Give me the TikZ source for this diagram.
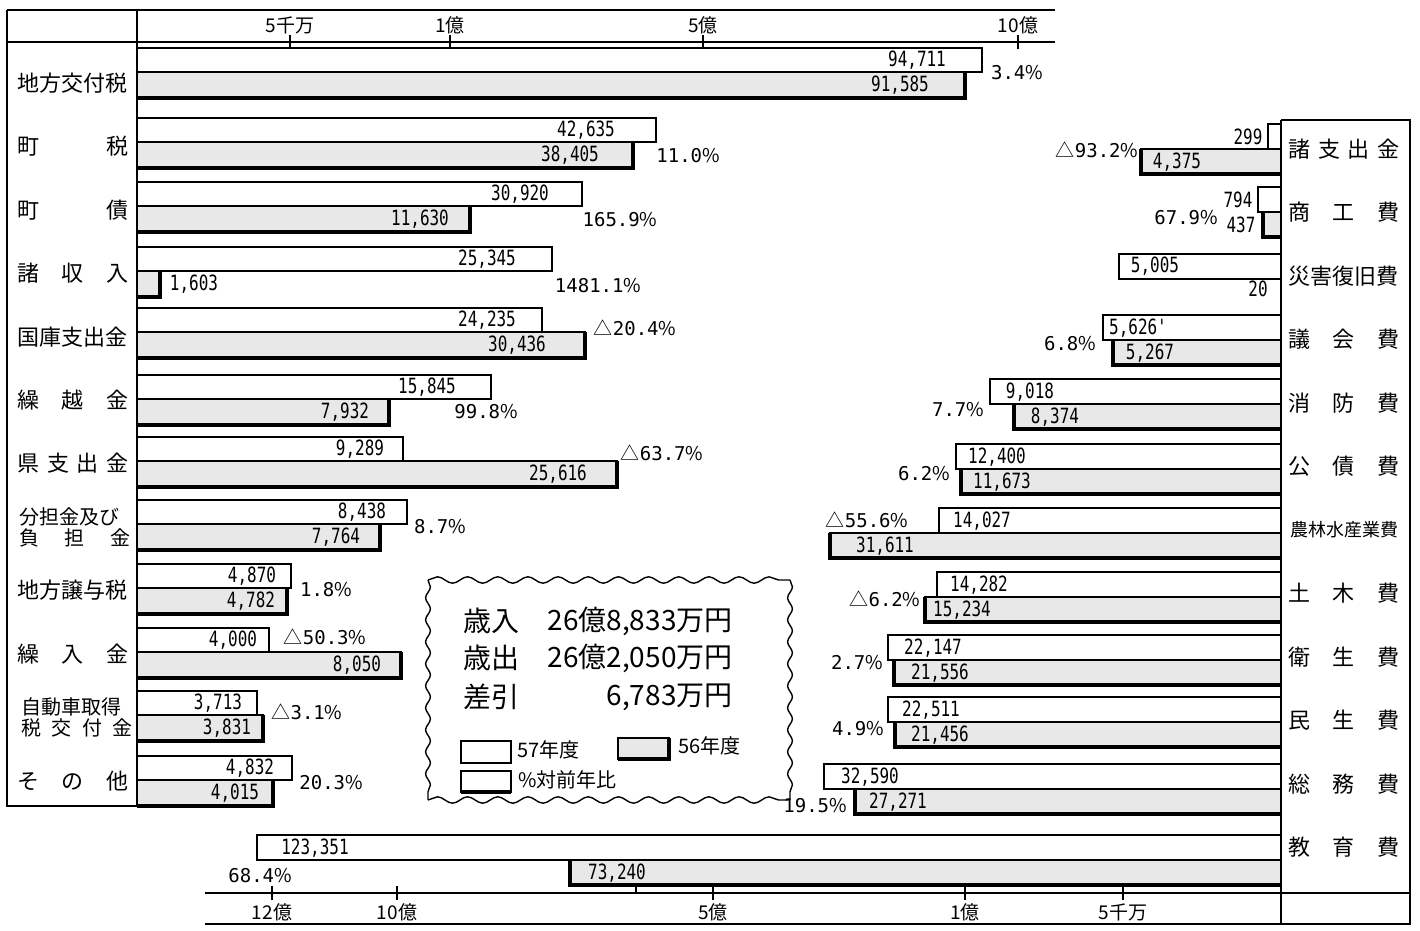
\documentclass[tikz,border=0pt]{standalone}
\usepackage{fontspec}
\setmainfont{Noto Sans CJK JP}
\newfontfamily\jpfont{Noto Sans CJK JP}
\newfontfamily\numfont{DejaVu Sans Mono}
\newfontfamily\slimfont[FakeStretch=0.76]{DejaVu Sans Mono}
\usetikzlibrary{positioning}
\usetikzlibrary{decorations.pathmorphing}
\newcommand\dtri{{\jpfont △}}
\newcommand\pcs{{\jpfont\%}}

\begin{document}
\begin{tikzpicture}[
        x = 0.5pt, y = -0.5pt, % one unit per pixel of the page
        bar57/.style = {draw, fill = white, line width = 0.7pt},
        bar56/.style = {draw, fill = gray!18, line width = 0.7pt},
        shade/.style = {line width = 2.2pt},
        frame/.style = {line width = 0.8pt},
        wavy/.style = {line width = 0.7pt, decorate, decoration = {snake, #1}},
        val/.style = {font = \slimfont\fontsize{10.5}{11}\selectfont, inner sep = 0pt},
        pct/.style = {font = \numfont\fontsize{9.5}{10}\selectfont, inner sep = 0pt},
        axlab/.style = {font = \fontsize{9.5}{10}\selectfont, inner sep = 0pt},
        rowlab/.style = {anchor = west, inner sep = 0pt, text width = 55.5pt,
                         align = left, font = \fontsize{11}{12}\selectfont},
        smalllab/.style = {rowlab, font = \fontsize{10}{10.5}\selectfont},
        sumtxt/.style = {inner sep = 0pt, font = \fontsize{14}{15}\selectfont},
        keytxt/.style = {anchor = west, inner sep = 0pt, font = \fontsize{10}{11}\selectfont}
    ]
    \useasboundingbox (0,0) rectangle (1420,931);

    % frame and top scale (revenue)
    \draw[frame] (7,10) -- (1055,10);
    \draw[frame] (7,42) -- (1055,42);
    \draw[frame] (7,10) -- (7,806) -- (137,806);
    \draw[frame] (137,10) -- (137,806);
    \foreach \tx/\tl in {290/5千万, 450/1億, 703/5億, 1018/10億} {
        \draw[frame] (\tx,35) -- (\tx,49);
        \node[axlab] (top-\tx) at (\tx,25) {\tl};
    }

    % frame and bottom scale (expenditure)
    \draw[frame] (1281,120) -- (1410,120) -- (1410,924) -- (205,924);
    \draw[frame] (1281,120) -- (1281,924);
    \draw[frame] (205,893) -- (1410,893);
    \foreach \tx/\tl in {272/12億, 397/10億, 713/5億, 965/1億, 1123/5千万} {
        \draw[frame] (\tx,886) -- (\tx,900);
        \node[axlab] (bot-\tx) at (\tx,912) {\tl};
    }
    \draw[frame] (636,886) -- (636,893);

    % revenue bars
    \foreach \k/\yb/\wend/\wx/\wv/\gend/\gx/\gv/\px/\py/\pv in {
        1/72/982/917/94{,}711/965/900/91{,}585/1017/73/3.4\pcs,
        2/142/656/586/42{,}635/633/570/38{,}405/688/156/11.0\pcs,
        3/206/582/520/30{,}920/470/420/11{,}630/620/220/165.9\pcs,
        4/271/552/487/25{,}345/160/194/1{,}603/598/286/1481.1\pcs,
        5/332/542/487/24{,}235/585/517/30{,}436/635/328/\dtri20.4\pcs,
        6/399/491/427/15{,}845/389/345/7{,}932/486/412/99.8\pcs,
        7/461/403/360/9{,}289/617/558/25{,}616/662/453/\dtri63.7\pcs,
        8/524/407/362/8{,}438/380/336/7{,}764/440/527/8.7\pcs,
        9/588/291/252/4{,}870/287/251/4{,}782/326/590/1.8\pcs,
        10/652/269/233/4{,}000/401/357/8{,}050/325/637/\dtri50.3\pcs,
        11/715/257/218/3{,}713/263/227/3{,}831/307/712/\dtri3.1\pcs,
        12/780/292/250/4{,}832/273/235/4{,}015/331/783/20.3\pcs} {
        \draw[bar57] (137,\yb-24) rectangle (\wend,\yb);
        \draw[bar56] (137,\yb) rectangle (\gend,\yb+26);
        \draw[shade] (137,\yb+26) -- (\gend,\yb+26) -- (\gend,\yb);
        \node[val] (in-w-\k) at (\wx,\yb-12) {\wv};
        \node[val] (in-g-\k) at (\gx,\yb+13) {\gv};
        \node[pct] (in-p-\k) at (\px,\py) {\pv};
    }

    % revenue names
    \foreach \k/\yl/\txt in {1/83/地方交付税, 2/146/町\hfill 税, 3/210/町\hfill 債,
        4/273/諸\hfill 収\hfill 入, 5/337/国庫支出金, 6/400/繰\hfill 越\hfill 金,
        7/463/県\hfill 支\hfill 出\hfill 金, 9/590/地方譲与税,
        10/654/繰\hfill 入\hfill 金, 12/781/そ\hfill の\hfill 他} {
        \node[rowlab] (in-lab-\k) at (17,\yl) {\txt};
    }
    \node[smalllab] (in-lab-8) at (19,527) {分担金及び\\負\hfill 担\hfill 金};
    \node[smalllab] (in-lab-11) at (21,717) {自動車取得\\税\hfill 交\hfill 付\hfill 金};

    % expenditure bars
    \foreach \k/\yb/\wend/\wx/\wv/\gend/\gx/\gv/\px/\py/\pv in {
        1/149/1268/1248/299/1141/1177/4{,}375/1097/150/\dtri93.2\pcs,
        2/212/1258/1238/794/1263/1241/437/1186/218/67.9\pcs,
        4/340/1103/1138/5{,}626'/1113/1150/5{,}267/1070/344/6.8\pcs,
        5/404/990/1030/9{,}018/1014/1055/8{,}374/958/410/7.7\pcs,
        6/469/956/997/12{,}400/961/1002/11{,}673/924/474/6.2\pcs,
        7/533/939/982/14{,}027/830/885/31{,}611/867/520/\dtri55.6\pcs,
        8/597/937/979/14{,}282/925/962/15{,}234/885/599/\dtri6.2\pcs,
        9/660/888/933/22{,}147/894/940/21{,}556/857/663/2.7\pcs,
        10/722/888/931/22{,}511/895/940/21{,}456/858/729/4.9\pcs,
        11/789/824/870/32{,}590/855/898/27{,}271/815/806/19.5\pcs,
        12/860/257/315/123{,}351/570/617/73{,}240/260/876/68.4\pcs} {
        \draw[bar57] (\wend,\yb-25) rectangle (1281,\yb);
        \draw[bar56] (\gend,\yb) rectangle (1281,\yb+25);
        \draw[shade] (1281,\yb+25) -- (\gend,\yb+25) -- (\gend,\yb);
        \node[val] (out-w-\k) at (\wx,\yb-12) {\wv};
        \node[val] (out-g-\k) at (\gx,\yb+13) {\gv};
        \node[pct] (out-p-\k) at (\px,\py) {\pv};
    }
    \draw[bar57] (1119,254) rectangle (1281,279);
    \node[val] (out-w-3) at (1155,266) {5{,}005};
    \node[val] (out-g-3) at (1258,289) {20};

    % expenditure names
    \foreach \k/\yl/\txt in {1/149/諸\hfill 支\hfill 出\hfill 金, 2/212/商\hfill 工\hfill 費,
        3/276/災害復旧費, 4/339/議\hfill 会\hfill 費, 5/403/消\hfill 防\hfill 費,
        6/466/公\hfill 債\hfill 費, 8/593/土\hfill 木\hfill 費, 9/657/衛\hfill 生\hfill 費,
        10/720/民\hfill 生\hfill 費, 11/784/総\hfill 務\hfill 費, 12/847/教\hfill 育\hfill 費} {
        \node[rowlab] (out-lab-\k) at (1288,\yl) {\txt};
    }
    \node[rowlab, font = \fontsize{9}{10}\selectfont] (out-lab-7) at (1290,530) {農林水産業費};

    % totals box
    \coordinate (box-nw) at (428,580);
    \coordinate (box-ne) at (790,580);
    \coordinate (box-se) at (790,800);
    \coordinate (box-sw) at (428,800);
    \draw[wavy = {segment length = 15.08pt, amplitude = 1.6pt}] (box-nw) -- (box-ne);
    \draw[wavy = {segment length = 15.08pt, amplitude = 1.6pt}] (box-sw) -- (box-se);
    \draw[wavy = {segment length = 11pt, amplitude = 1.2pt}] (box-ne) -- (box-se);
    \draw[wavy = {segment length = 11pt, amplitude = 1.2pt}] (box-nw) -- (box-sw);
    \node[sumtxt, anchor = west] (rev) at (463,621) {歳入};
    \node[sumtxt, anchor = west] (exp) at (463,658) {歳出};
    \node[sumtxt, anchor = west] (dif) at (463,697) {差引};
    \node[sumtxt, anchor = east] (rev-sum) at (733,621) {26億8{,}833万円};
    \node[sumtxt, anchor = east] (exp-sum) at (733,658) {26億2{,}050万円};
    \node[sumtxt, anchor = east] (dif-sum) at (733,697) {6{,}783万円};

    % key
    \draw[bar57] (461,741) rectangle (511,763);
    \node[keytxt] (key57) at (517,750) {57年度};
    \draw[bar56] (618,738) rectangle (669,759);
    \draw[shade] (618,759) -- (669,759) -- (669,738);
    \node[keytxt] (key56) at (678,746) {56年度};
    \draw[bar57] (461,771) rectangle (511,792);
    \draw[shade] (461,792) -- (511,792);
    \node[keytxt] (keypct) at (518,780) {\%対前年比};
\end{tikzpicture}
\end{document}
